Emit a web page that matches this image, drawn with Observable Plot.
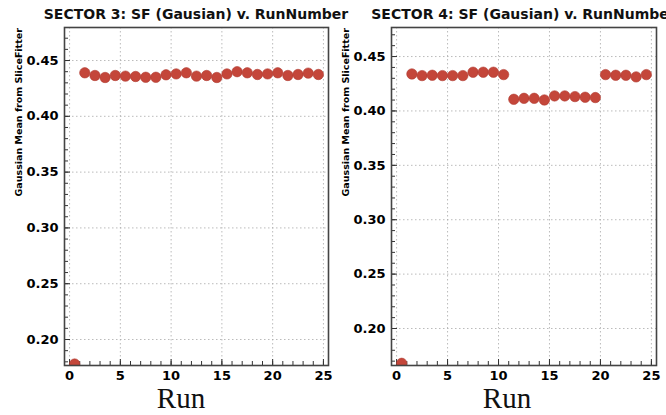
<!DOCTYPE html>
<html>
<head>
<meta charset="utf-8">
<script src="https://cdn.jsdelivr.net/npm/d3@7"></script>
<script src="https://cdn.jsdelivr.net/npm/@observablehq/plot@0.6"></script>
<style>
  html, body { margin: 0; padding: 0; background: #fff; }
  #wrap { position: relative; width: 666px; height: 415px; overflow: hidden; background: #fff; }
  .panel { position: absolute; top: 0; }
  .title { position: absolute; top: 6px; white-space: nowrap; font: bold 14px "DejaVu Sans", sans-serif; color: #111; transform: translateX(-50%); z-index: 5; }
  .xlab { position: absolute; top: 382px; white-space: nowrap; font: 29px "Liberation Serif", serif; color: #111; transform: translateX(-50%); }
</style>
</head>
<body>
<div id="wrap"></div>
<script>
const runs = [0.5, 1.5, 2.5, 3.5, 4.5, 5.5, 6.5, 7.5, 8.5, 9.5, 10.5, 11.5, 12.5,
              13.5, 14.5, 15.5, 16.5, 17.5, 18.5, 19.5, 20.5, 21.5, 22.5, 23.5, 24.5];
const sector3 = [0.178, 0.439, 0.4366, 0.4348, 0.4366, 0.436, 0.4357, 0.435, 0.435, 0.4372,
                 0.438, 0.439, 0.436, 0.4366, 0.4348, 0.438, 0.440, 0.439, 0.4375, 0.438,
                 0.439, 0.4366, 0.4375, 0.4387, 0.4375];
const sector4 = [0.168, 0.434, 0.4325, 0.4328, 0.4325, 0.4325, 0.4325, 0.4356, 0.4356, 0.4356,
                 0.4334, 0.4107, 0.4116, 0.4116, 0.4101, 0.4138, 0.4138, 0.4132, 0.4126, 0.4123,
                 0.4334, 0.4328, 0.4328, 0.4313, 0.4334];
const xMajor = [0, 5, 10, 15, 20, 25];
const xMinor = [0,1,2,3,4,5,6,7,8,9,10,11,12,13,14,15,16,17,18,19,20,21,22,23,24,25];
const yMajor = [0.20, 0.25, 0.30, 0.35, 0.40, 0.45];
const yMinor = [0.17,0.18,0.19,0.20,0.21,0.22,0.23,0.24,0.25,0.26,0.27,0.28,0.29,0.30,0.31,0.32,0.33,
                0.34,0.35,0.36,0.37,0.38,0.39,0.40,0.41,0.42,0.43,0.44,0.45,0.46,0.47];
const titles = ["SECTOR 3: SF (Gausian) v. RunNumber", "SECTOR 4: SF (Gausian) v. RunNumber"];
const yLabel = "Gaussian Mean from SliceFitter";
const xLabel = "Run";

const panels = [
  {left: 0, width: 333, ml: 64, mr: 5, yDomain: [0.1767, 0.4796], values: sector3, title: titles[0], runX: 181},
  {left: 333, width: 333, ml: 58, mr: 10, yDomain: [0.166, 0.4767], values: sector4, title: titles[1], runX: 174}
];

const wrap = document.getElementById("wrap");
const H = 385, mt = 27, mb = 20;

panels.forEach(p => {
  const data = runs.map((r, i) => ({run: r, value: p.values[i]}));
  const innerW = p.width - p.ml - p.mr;
  const innerH = H - mt - mb;
  const minorYt = yMinor.filter(v => v >= p.yDomain[0] && v <= p.yDomain[1]);
  const plot = Plot.plot({
    width: p.width,
    height: H,
    marginLeft: p.ml,
    marginRight: p.mr,
    marginTop: mt,
    marginBottom: mb,
    style: {background: "transparent", overflow: "visible", fontFamily: "DejaVu Sans, sans-serif"},
    x: {domain: [-0.5, 25.5], axis: null},
    y: {domain: p.yDomain, axis: null},
    marks: [
      Plot.gridX(xMajor, {stroke: "#aaa", strokeOpacity: 1, strokeDasharray: "1.5,2.5", strokeWidth: 0.8}),
      Plot.gridY(yMajor, {stroke: "#aaa", strokeOpacity: 1, strokeDasharray: "1.5,2.5", strokeWidth: 0.8}),
      Plot.tickY(minorYt, {y: d => d, insetRight: innerW - 4, stroke: "#333", strokeWidth: 1}),
      Plot.tickY(yMajor, {y: d => d, insetRight: innerW - 6, stroke: "#333", strokeWidth: 1}),
      Plot.tickX(xMinor, {x: d => d, insetTop: innerH - 4, stroke: "#333", strokeWidth: 1}),
      Plot.tickX(xMajor, {x: d => d, insetTop: innerH - 6, stroke: "#333", strokeWidth: 1}),
      Plot.axisY(yMajor, {tickSize: 0, tickPadding: 6, tickFormat: d3.format(".2f"), fontWeight: "bold", fontSize: 13, fill: "black", label: null}),
      Plot.axisX(xMajor, {tickSize: 0, tickPadding: 5, fontWeight: "bold", fontSize: 13, fill: "black", label: null}),
      Plot.dot(data, {x: "run", y: "value", r: 5.2, fill: "#c4463a", stroke: "#b03a30", strokeWidth: 0.6, clip: true}),
      Plot.frame({stroke: "#444", strokeWidth: 1.6}),
      Plot.text([yLabel], {frameAnchor: "left", dx: -46, rotate: -90, fontWeight: "bold", fontSize: 9.5, fill: "black"})
    ]
  });
  const div = document.createElement("div");
  div.className = "panel";
  div.style.left = p.left + "px";
  div.appendChild(plot);
  wrap.appendChild(div);

  const t = document.createElement("div");
  t.className = "title";
  t.textContent = p.title;
  t.style.left = (p.left + p.ml + innerW / 2) + "px";
  wrap.appendChild(t);

  const xl = document.createElement("div");
  xl.className = "xlab";
  xl.textContent = xLabel;
  xl.style.left = (p.left + p.runX) + "px";
  wrap.appendChild(xl);
});
</script>
</body>
</html>
